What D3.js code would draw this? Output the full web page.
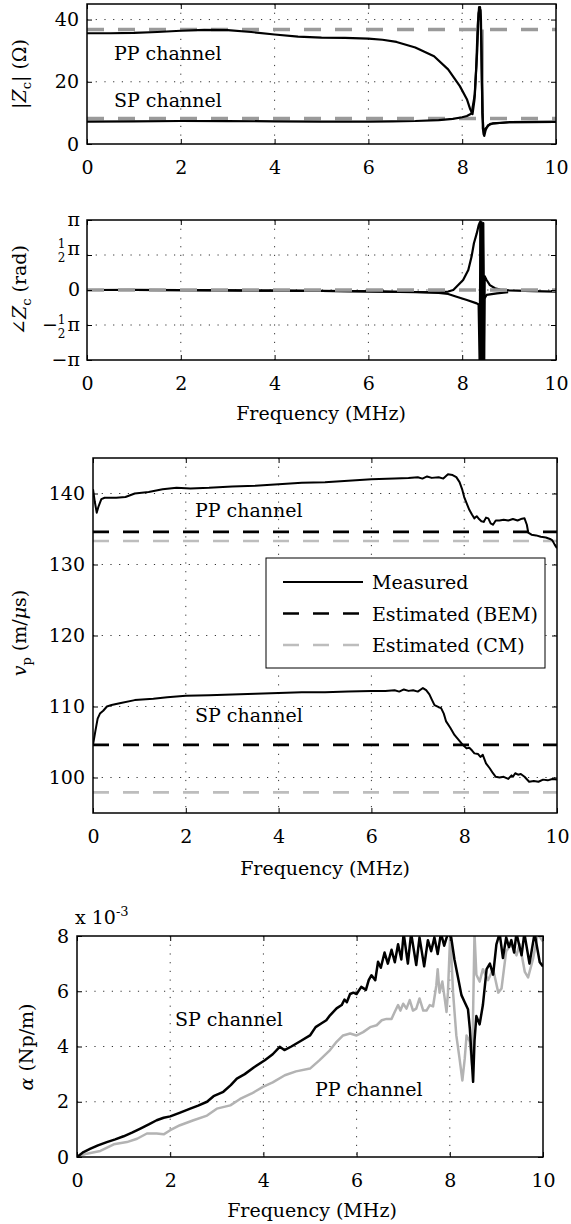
<!DOCTYPE html>
<html><head><meta charset="utf-8">
<script src="https://cdn.jsdelivr.net/npm/d3@7"></script>
<style>body{margin:0;background:#fff}svg{display:block}</style>
</head><body>
<svg id="c" width="571" height="1224"></svg>
<script>
// ---------------- DATA ----------------
const freqTicks = [0, 2, 4, 6, 8, 10];
const zTicks = [0, 20, 40];
const phaseTicks = [-Math.PI, -Math.PI / 2, 0, Math.PI / 2, Math.PI];
const vTicks = [100, 110, 120, 130, 140];
const aTicks = [0, 2, 4, 6, 8];

// |Zc| (Ohm)
const zMeasPP = [[0,35.6],[0.5,35.6],[1,35.7],[1.5,36.0],[2,36.4],[2.5,36.7],[3,36.6],[3.5,36.0],[4,35.2],[4.5,34.5],[5,34.2],[5.5,34.1],[6,33.9],[6.3,33.5],[6.6,32.8],[7.0,31.0],[7.4,28.2],[7.7,24.0],[7.95,18.6],[8.1,14.4],[8.17,11.2],[8.22,9.6],[8.26,14],[8.3,25],[8.33,38],[8.36,44],[8.39,43],[8.41,30],[8.43,10],[8.46,3],[8.5,5],[8.6,6.5],[9,7],[10,7.1]];
const zMeasSP = [[0,7.2],[1,7.3],[2,7.4],[3,7.35],[4,7.3],[5,7.2],[6,7.2],[6.5,7.3],[7,7.4],[7.5,7.7],[7.8,8.1],[8.0,8.6],[8.1,9.0],[8.2,9.8],[8.27,16],[8.32,30],[8.35,42],[8.38,44],[8.4,40],[8.42,20],[8.44,5],[8.47,2.6],[8.5,4.5],[8.55,6.0],[8.65,6.6],[9,7.0],[10,7.1]];
const zEstPP = [[0,36.8],[10,36.8]];
const zEstSP = [[0,8.2],[10,8.2]];
const zEstJump = [[8.44,8.2],[8.44,36.8]];

// angle Zc (rad)
const phMeasA = [[0,0],[1,0],[2,-0.01],[3,-0.02],[4,-0.03],[5,-0.04],[6,-0.06],[7,-0.09],[7.5,-0.1],[7.7,-0.07],[7.81,0],[8.02,0.45],[8.13,0.9],[8.2,1.5],[8.25,2.1],[8.31,2.54],[8.35,2.9],[8.38,3.05],[8.39,3.08],[8.395,-3.12],[8.41,3.05],[8.43,-3.12],[8.45,3.0],[8.47,-3.12],[8.48,0.62],[8.52,0.45],[8.59,0.22],[8.7,0.08],[8.81,0.02],[9,-0.02],[9.5,-0.05],[10,-0.07]];
const phMeasB = [[0,0],[1,0.005],[2,-0.005],[3,-0.02],[4,-0.03],[5,-0.045],[6,-0.06],[7,-0.1],[7.5,-0.13],[7.7,-0.18],[7.88,-0.3],[8.1,-0.45],[8.31,-0.6],[8.35,-0.65],[8.37,-3.12],[8.39,2.9],[8.42,-3.12],[8.44,2.6],[8.46,-3.12],[8.47,-0.4],[8.52,-0.22],[8.74,-0.15],[8.98,-0.1]];
const phEst = [[0,0],[10,0]];

// phase velocity (m/us)
const vMeasPP = [[0,140.6],[0.04,138.8],[0.08,137.3],[0.12,138.2],[0.18,139.2],[0.25,139.4],[0.5,139.4],[0.7,139.5],[0.9,140.0],[1.2,140.2],[1.5,140.6],[1.8,140.8],[2.1,140.7],[2.5,140.8],[3,141.0],[3.5,141.1],[4,141.3],[4.5,141.5],[5,141.6],[5.5,141.8],[6,142.0],[6.5,142.1],[6.8,142.2],[7.0,142.3],[7.1,142.1],[7.2,142.4],[7.3,142.2],[7.45,142.3],[7.55,142.1],[7.65,142.7],[7.75,142.6],[7.83,142.3],[7.9,141.6],[7.96,140.5],[8.0,139.5],[8.06,138.5],[8.11,137.7],[8.17,137.0],[8.22,136.5],[8.27,136.8],[8.32,136.4],[8.37,136.1],[8.42,136.0],[8.47,136.6],[8.52,136.5],[8.57,135.8],[8.62,135.6],[8.68,136.2],[8.76,136.2],[8.85,136.3],[8.95,136.2],[9.05,136.4],[9.15,136.2],[9.22,136.4],[9.3,136.5],[9.35,135.6],[9.38,134.5],[9.45,134.2],[9.55,134.1],[9.65,133.9],[9.76,133.8],[9.85,133.6],[9.9,133.4],[9.95,132.8],[10,132.3]];
const vMeasSP = [[0,104.6],[0.05,106.5],[0.1,108.3],[0.15,109.0],[0.22,109.4],[0.3,110.0],[0.4,110.2],[0.6,110.5],[0.9,110.9],[1.3,111.1],[1.6,111.3],[2,111.5],[2.5,111.6],[3,111.7],[3.5,111.8],[4,111.9],[4.5,112.0],[5,112.0],[5.5,112.1],[6,112.2],[6.3,112.2],[6.5,112.3],[6.6,112.1],[6.7,112.4],[6.8,112.2],[6.9,112.3],[7.0,112.1],[7.11,112.6],[7.18,112.3],[7.25,111.7],[7.3,111.0],[7.36,110.2],[7.45,109.9],[7.5,109.8],[7.56,109.0],[7.61,107.9],[7.7,107.0],[7.79,106.0],[7.88,105.3],[7.97,104.6],[8.05,104.1],[8.11,104.2],[8.17,103.8],[8.22,103.4],[8.3,103.3],[8.35,102.9],[8.4,103.2],[8.47,102.0],[8.55,101.3],[8.62,100.6],[8.68,100.1],[8.76,100.0],[8.85,100.1],[8.95,99.8],[9.02,100.3],[9.05,100.1],[9.1,100.6],[9.16,100.4],[9.22,100.5],[9.3,100.1],[9.4,99.4],[9.5,99.5],[9.6,99.4],[9.7,99.7],[9.8,99.6],[9.9,99.8],[10,99.7]];
const vBemPP = [[0,134.6],[10,134.6]];
const vBemSP = [[0,104.6],[10,104.6]];
const vCmPP = [[0,133.3],[10,133.3]];
const vCmSP = [[0,97.9],[10,97.9]];
const legendLabels = ["Measured", "Estimated (BEM)", "Estimated (CM)"];

// attenuation (x 1e-3 Np/m)
const aMeasSP = [[0,0],[0.14,0.18],[0.29,0.3],[0.45,0.42],[0.64,0.54],[0.82,0.64],[1.0,0.75],[1.18,0.88],[1.36,1.03],[1.54,1.18],[1.71,1.33],[1.86,1.42],[2.0,1.47],[2.2,1.6],[2.43,1.75],[2.6,1.86],[2.79,2.0],[2.93,2.2],[3.14,2.36],[3.3,2.6],[3.43,2.84],[3.6,3.0],[3.8,3.25],[4.03,3.5],[4.2,3.72],[4.35,3.99],[4.45,3.87],[4.6,4.0],[4.8,4.2],[5.0,4.4],[5.12,4.7],[5.24,4.83],[5.35,4.95],[5.43,5.13],[5.57,5.38],[5.68,5.5],[5.74,5.7],[5.79,5.6],[5.86,5.9],[5.93,5.95],[6.0,5.9],[6.1,6.16],[6.2,6.05],[6.26,6.4],[6.32,6.58],[6.4,6.4],[6.46,7.07],[6.52,6.85],[6.6,7.4],[6.67,7.0],[6.75,7.5],[6.82,7.05],[6.89,7.7],[6.96,7.15],[7.01,8.1],[7.1,7.0],[7.17,8.1],[7.28,6.95],[7.35,7.95],[7.45,6.9],[7.53,7.85],[7.6,7.45],[7.67,7.95],[7.74,7.35],[7.81,8.1],[7.88,7.65],[7.96,8.1],[8.03,7.95],[8.1,7.15],[8.17,6.55],[8.25,5.86],[8.32,5.6],[8.39,5.35],[8.43,4.65],[8.5,2.72],[8.53,4.2],[8.57,5.1],[8.64,4.8],[8.71,5.5],[8.79,6.8],[8.86,7.0],[8.93,6.6],[9.0,7.7],[9.07,8.1],[9.14,7.2],[9.21,7.95],[9.27,7.6],[9.32,7.85],[9.38,7.4],[9.43,8.1],[9.54,7.3],[9.6,8.1],[9.71,7.0],[9.82,8.1],[9.93,7.05],[10,6.9]];
const aMeasPP = [[0,0],[0.21,0.12],[0.5,0.22],[0.79,0.46],[1.07,0.54],[1.29,0.66],[1.5,0.85],[1.71,0.85],[1.86,0.82],[2.0,0.97],[2.21,1.15],[2.5,1.33],[2.79,1.5],[3.0,1.75],[3.29,1.87],[3.5,2.1],[3.75,2.3],[3.99,2.54],[4.2,2.7],[4.46,2.96],[4.7,3.1],[5.0,3.2],[5.2,3.5],[5.43,3.87],[5.57,4.17],[5.71,4.4],[5.86,4.47],[6.0,4.4],[6.14,4.52],[6.29,4.7],[6.43,4.77],[6.54,4.95],[6.64,5.0],[6.75,5.0],[6.82,5.26],[6.89,5.5],[6.94,5.3],[7.0,5.55],[7.07,5.37],[7.14,5.68],[7.21,5.3],[7.28,5.37],[7.35,5.74],[7.43,5.3],[7.5,5.3],[7.57,5.5],[7.64,5.45],[7.71,6.2],[7.74,6.8],[7.78,5.95],[7.84,6.35],[7.89,5.74],[7.93,5.25],[7.96,5.95],[8.01,8.1],[8.07,5.95],[8.14,4.4],[8.21,3.55],[8.27,2.77],[8.32,3.55],[8.36,4.4],[8.43,4.17],[8.48,3.3],[8.53,8.1],[8.57,6.6],[8.64,6.35],[8.71,6.8],[8.82,6.4],[8.93,6.8],[9.04,5.95],[9.11,6.1],[9.21,7.45],[9.32,7.7],[9.43,7.3],[9.5,7.7],[9.61,6.7],[9.68,6.5],[9.79,7.2],[9.89,8.1],[9.96,7.9],[10,7.8]];

// ---------------- DRAW ----------------
const FONT = "DejaVu Serif";
const FS = 19;
const svg = d3.select("#c").attr("font-family", FONT).attr("font-size", FS);

function panel(id, box, ydom, yticks, opts) {
  const x = d3.scaleLinear().domain([0, 10]).range([box.x0, box.x1]);
  const y = d3.scaleLinear().domain(ydom).range([box.y1, box.y0]);
  const g = svg.append("g");
  svg.append("defs").append("clipPath").attr("id", "clip" + id)
    .append("rect").attr("x", box.x0).attr("y", box.y0)
    .attr("width", box.x1 - box.x0).attr("height", box.y1 - box.y0);
  const grid = g.append("g").attr("stroke", "#333").attr("stroke-width", 1).attr("stroke-dasharray", "1.2,7.5");
  freqTicks.filter(t => t > 0 && t < 10).forEach(t => grid.append("line")
    .attr("x1", x(t)).attr("x2", x(t)).attr("y1", box.y0).attr("y2", box.y1));
  yticks.filter(t => t > ydom[0] && t < ydom[1]).forEach(t => grid.append("line")
    .attr("x1", box.x0).attr("x2", box.x1).attr("y1", y(t)).attr("y2", y(t)));
  const plot = g.append("g").attr("clip-path", "url(#clip" + id + ")");
  const ax = g.append("g");
  const bottom = ax.append("g").attr("transform", `translate(0,${box.y1})`)
    .call(d3.axisBottom(x).tickValues(freqTicks).tickSizeInner(-5).tickSizeOuter(0).tickPadding(16));
  ax.append("g").attr("transform", `translate(0,${box.y0})`)
    .call(d3.axisTop(x).tickValues(freqTicks).tickSizeInner(-5).tickSizeOuter(0).tickFormat(""));
  const left = ax.append("g").attr("transform", `translate(${box.x0},0)`)
    .call(d3.axisLeft(y).tickValues(yticks).tickSizeInner(-5).tickSizeOuter(0).tickPadding(8)
      .tickFormat(opts.yfmt || d3.format("d")));
  ax.append("g").attr("transform", `translate(${box.x1},0)`)
    .call(d3.axisRight(y).tickValues(yticks).tickSizeInner(-5).tickSizeOuter(0).tickFormat(""));
  ax.selectAll(".domain").remove();
  ax.selectAll("g").attr("font-family", FONT).attr("font-size", FS);
  ax.selectAll(".tick line").attr("stroke", "#000").attr("stroke-width", 1);
  ax.selectAll(".tick text").attr("fill", "#000");
  bottom.selectAll(".tick text").attr("dy", "0.75em");
  g.append("rect").attr("x", box.x0).attr("y", box.y0)
    .attr("width", box.x1 - box.x0).attr("height", box.y1 - box.y0)
    .attr("fill", "none").attr("stroke", "#000").attr("stroke-width", 1.5);
  const line = d3.line().x(d => x(d[0])).y(d => y(d[1]));
  function series(data, color, width, dash) {
    plot.append("path").attr("d", line(data)).attr("fill", "none")
      .attr("stroke", color).attr("stroke-width", width)
      .attr("stroke-linejoin", "round")
      .attr("stroke-dasharray", dash || null);
  }
  return {x, y, g, left, series};
}

function ylabel(x, y, build) {
  const t = svg.append("text").attr("transform", `translate(${x},${y}) rotate(-90)`)
    .attr("text-anchor", "middle");
  build(t);
  return t;
}
function xlabel(x, y) {
  svg.append("text").attr("x", x).attr("y", y).attr("text-anchor", "middle")
    .attr("dominant-baseline", "central").text("Frequency (MHz)");
}
function note(x, y, s) {
  svg.append("text").attr("x", x).attr("y", y).attr("dominant-baseline", "central").text(s);
}

// Panel 1: |Zc|
const b1 = {x0: 87, x1: 556, y0: 4, y1: 144};
const p1 = panel(1, b1, [0, 45], zTicks, {});
p1.series(zEstPP, "#9a9a9a", 3.5, "17,14");
p1.series(zEstSP, "#9a9a9a", 3.5, "17,14");
p1.series(zEstJump, "#9a9a9a", 2);
p1.series(zMeasPP, "#000", 2.2);
p1.series(zMeasSP, "#000", 2.2);
note(114, 53, "PP channel");
note(114, 100, "SP channel");
ylabel(26, 74, t => {
  t.append("tspan").text("|");
  t.append("tspan").attr("font-style", "italic").text("Z");
  t.append("tspan").attr("font-size", 13).attr("dy", 5).text("c");
  t.append("tspan").attr("dy", -5).text("| (Ω)");
});

// Panel 2: phase
const b2 = {x0: 87, x1: 556, y0: 220, y1: 360};
const p2 = panel(2, b2, [-Math.PI, Math.PI], phaseTicks, {yfmt: () => ""});
p2.series(phMeasA, "#000", 2.2);
p2.series(phMeasB, "#000", 2.2);
p2.series(phEst, "#9a9a9a", 3.5, "17,14");
const phaseLabel = [["−", false], ["−", true], ["0", false], ["", true], ["", false]];
phaseTicks.forEach((t, i) => {
  const [sign, half] = phaseLabel[i];
  const tx = svg.append("text").attr("x", b2.x0 - 7).attr("y", p2.y(t)).attr("dy", "0.32em")
    .attr("text-anchor", "end");
  if (i === 2) { tx.text("0"); return; }
  if (sign) tx.append("tspan").text(sign);
  if (half) {
    tx.append("tspan").attr("font-size", 12).attr("dy", -7).text("1");
    tx.append("tspan").attr("font-size", 12).attr("dx", -7.6).attr("dy", 14).text("2");
    tx.append("tspan").attr("dx", 2).attr("dy", -7).text("π");
  } else {
    tx.append("tspan").text("π");
  }
});
xlabel(321, 413);
ylabel(26, 290, t => {
  t.append("tspan").text("∠");
  t.append("tspan").attr("font-style", "italic").text("Z");
  t.append("tspan").attr("font-size", 13).attr("dy", 5).text("c");
  t.append("tspan").attr("dy", -5).text(" (rad)");
});

// Panel 3: phase velocity
const b3 = {x0: 93, x1: 557, y0: 458, y1: 813};
const p3 = panel(3, b3, [95, 145], vTicks, {});
p3.series(vCmPP, "#bdbdbd", 2.6, "16,14");
p3.series(vCmSP, "#bdbdbd", 2.6, "16,14");
p3.series(vBemPP, "#000", 2.6, "16,14");
p3.series(vBemSP, "#000", 2.6, "16,14");
p3.series(vMeasPP, "#000", 2);
p3.series(vMeasSP, "#000", 2);
note(195, 510, "PP channel");
note(195, 715, "SP channel");
xlabel(325, 868);
ylabel(26, 633, t => {
  t.append("tspan").attr("font-style", "italic").text("v");
  t.append("tspan").attr("font-size", 13).attr("dy", 5).text("p");
  t.append("tspan").attr("dy", -5).text(" (m/");
  t.append("tspan").attr("font-style", "italic").text("μ");
  t.append("tspan").text("s)");
});
const lg = svg.append("g");
lg.append("rect").attr("x", 266).attr("y", 558).attr("width", 279).attr("height", 110)
  .attr("fill", "#fff").attr("stroke", "#000").attr("stroke-width", 1);
const legStyles = [["#000", null], ["#000", "16,14"], ["#bdbdbd", "16,14"]];
legendLabels.forEach((s, i) => {
  const yy = 582 + i * 31.5;
  lg.append("line").attr("x1", 283).attr("x2", 363).attr("y1", yy).attr("y2", yy)
    .attr("stroke", legStyles[i][0]).attr("stroke-width", legStyles[i][1] ? 2.6 : 2)
    .attr("stroke-dasharray", legStyles[i][1]);
  lg.append("text").attr("x", 372).attr("y", yy).attr("dominant-baseline", "central").text(s);
});

// Panel 4: attenuation
const b4 = {x0: 77, x1: 543, y0: 936, y1: 1157};
const p4 = panel(4, b4, [0, 8], aTicks, {});
p4.series(aMeasPP, "#b3b3b3", 2.5);
p4.series(aMeasSP, "#000", 2.5);
note(175, 1019, "SP channel");
note(315, 1089, "PP channel");
xlabel(312, 1210);
const ex = svg.append("text").attr("x", 75).attr("y", 924);
ex.append("tspan").text("x 10");
ex.append("tspan").attr("font-size", 13).attr("dy", -8).text("-3");
ylabel(33, 1047, t => {
  t.append("tspan").attr("font-style", "italic").text("α");
  t.append("tspan").text(" (Np/m)");
});
</script>
</body></html>
